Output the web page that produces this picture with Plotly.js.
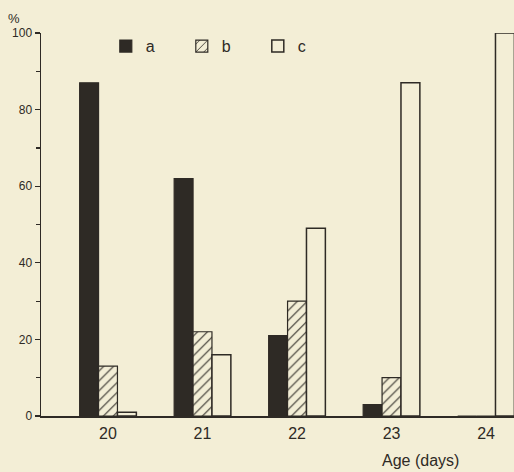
<!DOCTYPE html>
<html>
<head>
<meta charset="utf-8">
<script src="https://cdn.plot.ly/plotly-3.0.1.min.js"></script>
<style>
  html, body { margin: 0; padding: 0; background: #f3eed6; }
  #chart { width: 514px; height: 472px; }
</style>
</head>
<body>
<div id="chart"></div>
<script>
const ages = [20, 21, 22, 23, 24];
const seriesA = [87, 62, 21, 3, 0];
const seriesB = [13, 22, 30, 10, 0];
const seriesC = [1, 16, 49, 87, 100];
const yTicks = [0, 20, 40, 60, 80, 100];
const yTickLabels = ['0', '20', '40', '60', '80', '100'];

const ink = '#2e2a25';
const bg = '#f3eed6';
const font = 'Liberation Sans, DejaVu Sans, sans-serif';

const traces = [
  { type: 'bar', name: 'a', x: ages, y: seriesA,
    marker: { color: ink, line: { color: ink, width: 1.2 } }, cliponaxis: false },
  { type: 'bar', name: 'b', x: ages, y: seriesB,
    marker: { color: bg, line: { color: ink, width: 1.2 },
      pattern: { shape: '/', fgcolor: ink, bgcolor: bg, size: 7, solidity: 0.15 } }, cliponaxis: false },
  { type: 'bar', name: 'c', x: ages, y: seriesC,
    marker: { color: bg, line: { color: ink, width: 1.5 } }, cliponaxis: false }
];

const layout = {
  width: 514, height: 472,
  paper_bgcolor: bg, plot_bgcolor: bg,
  margin: { l: 41, r: 0, t: 33, b: 56 },
  barmode: 'group', bargap: 0.4, bargroupgap: 0,
  font: { family: font, color: ink },
  showlegend: true,
  legend: {
    orientation: 'h', x: 0.137, xanchor: 'left', y: 1.01, yanchor: 'top',
    font: { size: 16, color: ink, family: font },
    entrywidth: 31, entrywidthmode: 'pixels',
    bgcolor: 'rgba(0,0,0,0)', traceorder: 'normal'
  },
  xaxis: {
    range: [19.291, 24.296], tickvals: ages, ticktext: ages.map(String),
    showgrid: false, zeroline: false, showline: true, linecolor: ink, linewidth: 1.5,
    ticks: '', tickfont: { size: 16, color: ink, family: font }, ticklabelstandoff: 2
  },
  yaxis: {
    range: [0, 100], tickvals: yTicks, ticktext: yTickLabels,
    showgrid: false, zeroline: false, showline: true, linecolor: ink, linewidth: 1.5,
    ticks: 'outside', ticklen: 5, tickwidth: 1.3, tickcolor: ink,
    tickfont: { size: 12, color: ink, family: font },
    minor: { dtick: 10, tick0: 0, ticks: 'outside', ticklen: 4, tickwidth: 1.2, tickcolor: ink }
  },
  annotations: [
    { text: '%', xref: 'paper', yref: 'paper', x: -0.058, y: 1.039, xanchor: 'center', yanchor: 'middle',
      showarrow: false, font: { size: 13, color: ink, family: font } },
    { text: 'Age (days)', xref: 'paper', yref: 'paper', x: 0.802, y: -0.115, xanchor: 'center', yanchor: 'middle',
      showarrow: false, font: { size: 16, color: ink, family: font } }
  ]
};

Plotly.newPlot('chart', traces, layout, { displayModeBar: false, staticPlot: true });
</script>
</body>
</html>
